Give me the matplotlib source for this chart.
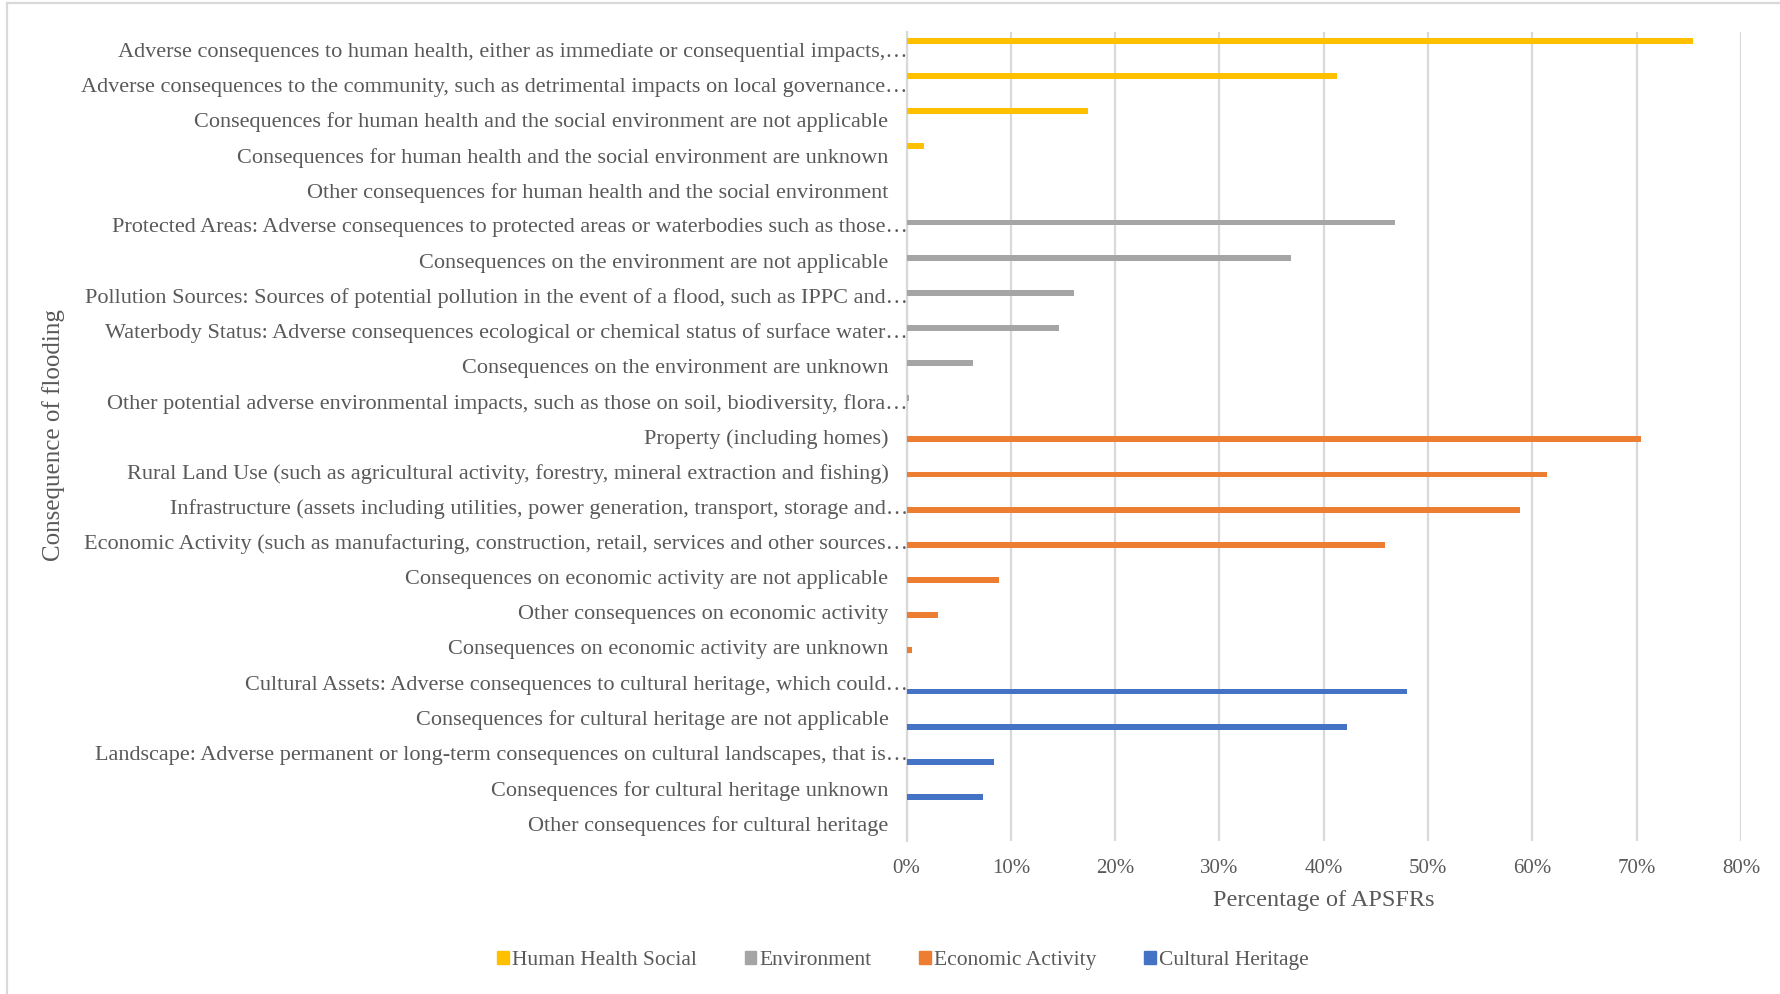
import matplotlib
matplotlib.use('Agg')
import matplotlib.pyplot as plt
from matplotlib.patches import Patch
from matplotlib.lines import Line2D
import numpy as np

plt.rcParams['font.family'] = ['Liberation Serif', 'DejaVu Serif']

# categories, top to bottom
labels = [
    'Adverse consequences to human health, either as immediate or consequential impacts,\u2026',
    'Adverse consequences to the community, such as detrimental impacts on local governance\u2026',
    'Consequences for human health and the social environment are not applicable',
    'Consequences for human health and the social environment are unknown',
    'Other consequences for human health and the social environment',
    'Protected Areas: Adverse consequences to protected areas or waterbodies such as those\u2026',
    'Consequences on the environment are not applicable',
    'Pollution Sources: Sources of potential pollution in the event of a flood, such as IPPC and\u2026',
    'Waterbody Status: Adverse consequences ecological or chemical status of surface water\u2026',
    'Consequences on the environment are unknown',
    'Other potential adverse environmental impacts, such as those on soil, biodiversity, flora\u2026',
    'Property (including homes)',
    'Rural Land Use (such as agricultural activity, forestry, mineral extraction and fishing)',
    'Infrastructure (assets including utilities, power generation, transport, storage and\u2026',
    'Economic Activity (such as manufacturing, construction, retail, services and other sources\u2026',
    'Consequences on economic activity are not applicable',
    'Other consequences on economic activity',
    'Consequences on economic activity are unknown',
    'Cultural Assets: Adverse consequences to cultural heritage, which could\u2026',
    'Consequences for cultural heritage are not applicable',
    'Landscape: Adverse permanent or long-term consequences on cultural landscapes, that is\u2026',
    'Consequences for cultural heritage unknown',
    'Other consequences for cultural heritage',
]

series_names = ['Human Health Social', 'Environment', 'Economic Activity', 'Cultural Heritage']
colors = ['#FFC000', '#A5A5A5', '#ED7D31', '#4472C4']

human_health = [75.4, 41.3, 17.4, 1.7, 0.0]
environment = [46.8, 36.9, 16.1, 14.6, 6.4, 0.2]
economic = [70.4, 61.4, 58.8, 45.9, 8.9, 3.0, 0.5]
cultural = [48.0, 42.2, 8.4, 7.3, 0.0]

all_series = [human_health, environment, economic, cultural]

fig = plt.figure(figsize=(17.81, 9.94), dpi=100)
ax = fig.add_axes([0.509, 0.154, 0.4686, 0.8138])

bar_h = 0.166
offsets = [-0.25, -0.083, 0.083, 0.25]
start = 0
for vals, col, off in zip(all_series, colors, offsets):
    ys = np.arange(start, start + len(vals)) + off
    ax.barh(ys, vals, height=bar_h, color=col, zorder=3)
    start += len(vals)

ax.set_ylim(len(labels) - 0.5, -0.5)
ax.set_xlim(0, 80)
ax.set_xticks(np.arange(0, 81, 10))
ax.set_xticklabels([f'{v}%' for v in range(0, 81, 10)])
ax.set_yticks(np.arange(len(labels)))
ax.set_yticklabels(labels)

ax.grid(axis='x', color='#D9D9D9', lw=1.6, zorder=0)
for s in ['top', 'right', 'bottom']:
    ax.spines[s].set_visible(False)
ax.spines['left'].set_color('#D9D9D9')
ax.spines['left'].set_linewidth(1.6)
ax.tick_params(axis='y', length=0, labelsize=16, labelcolor='#595959')
ax.tick_params(axis='x', length=0, labelsize=15, labelcolor='#595959', pad=13)

for tick, lab in zip(ax.yaxis.get_major_ticks(), labels):
    tick.set_pad(-1 if lab.endswith('\u2026') else 13)

ax.set_xlabel('Percentage of APSFRs', fontsize=17.5, color='#595959', labelpad=9)
fig.text(0.030, 0.562, 'Consequence of flooding', rotation=90, fontsize=18,
         color='#595959', ha='center', va='center')

handles = [Patch(color=c) for c in colors]
fig.legend(handles, series_names, loc='center', bbox_to_anchor=(0.507, 0.034),
           ncol=4, frameon=False, fontsize=15.5, handlelength=0.55, handleheight=0.55,
           handletextpad=0.15, columnspacing=2.2, labelcolor='#595959')

# chart border (top and left)
fig.add_artist(Line2D([0.004, 1.0], [0.997, 0.997], color='#D9D9D9', lw=1.6,
                      transform=fig.transFigure))
fig.add_artist(Line2D([0.004, 0.004], [0.0, 0.997], color='#D9D9D9', lw=1.6,
                      transform=fig.transFigure))

fig.savefig('out.png', dpi=100)
